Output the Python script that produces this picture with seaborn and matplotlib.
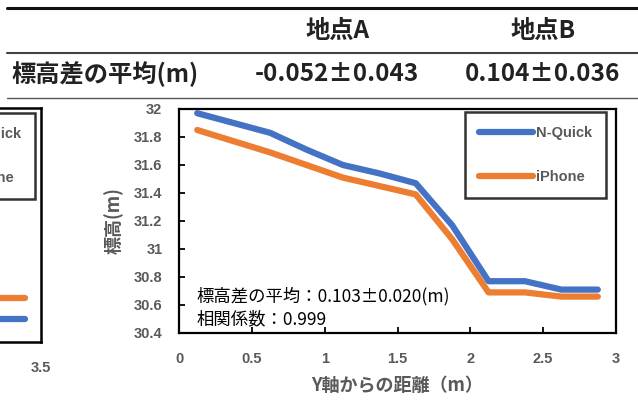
import matplotlib
matplotlib.use("Agg")
import matplotlib.pyplot as plt
from matplotlib.lines import Line2D
import seaborn as sns
import pandas as pd

sns.set_theme(style="white")
plt.rcParams['font.family'] = ['Noto Sans CJK JP', 'DejaVu Sans']

# ---- data ----
table_cols = ["地点A", "地点B"]
table_row_label = "標高差の平均(m)"
table_values = ["-0.052±0.043", "0.104±0.036"]

dist_b = [0.125, 0.375, 0.625, 0.875, 1.125, 1.375, 1.625, 1.875, 2.125, 2.375, 2.625, 2.875]
nquick_b = [31.97, 31.90, 31.83, 31.71, 31.60, 31.54, 31.47, 31.17, 30.77, 30.77, 30.71, 30.71]
iphone_b = [31.85, 31.77, 31.69, 31.60, 31.51, 31.45, 31.39, 31.07, 30.69, 30.69, 30.66, 30.66]

dist_a = [2.625, 2.875, 3.125, 3.375]
nquick_a = [30.60, 30.57, 30.56, 30.56]
iphone_a = [30.74, 30.72, 30.70, 30.70]

series_names = ["N-Quick", "iPhone"]
colors = ["#4472C4", "#ED7D31"]
xticks_b = [0, 0.5, 1, 1.5, 2, 2.5, 3]
xticklabels_b = ["0", "0.5", "1", "1.5", "2", "2.5", "3"]
yticks_b = [30.4, 30.6, 30.8, 31, 31.2, 31.4, 31.6, 31.8, 32]
yticklabels_b = ["30.4", "30.6", "30.8", "31", "31.2", "31.4", "31.6", "31.8", "32"]
annot_lines = ["標高差の平均：0.103±0.020(m)", "相関係数：0.999"]

W, H = 638, 400
fig = plt.figure(figsize=(W / 100, H / 100), dpi=100)

def px(x0, y0, x1, y1):
    return [x0 / W, 1 - y1 / H, (x1 - x0) / W, (y1 - y0) / H]

gray = "#595959"
tickfont = dict(family=['Liberation Sans', 'DejaVu Sans'], weight='bold', size=10.5, color=gray)
legprop = dict(family=['Liberation Sans', 'DejaVu Sans'], weight='bold', size=10.5)

# ---- table ----
fig.add_artist(Line2D([7 / W, 1], [1 - 8 / H] * 2, color="#111111", lw=2.2))
fig.add_artist(Line2D([7 / W, 1], [1 - 53 / H] * 2, color="#444444", lw=1.5))
fig.add_artist(Line2D([7 / W, 1], [1 - 98 / H] * 2, color="#555555", lw=1.0))
tkw = dict(va="center", fontsize=17.5, weight="bold", color="#222222")
fig.text(338 / W, 1 - 31 / H, table_cols[0], ha="center", **tkw)
fig.text(543 / W, 1 - 31 / H, table_cols[1], ha="center", **tkw)
fig.text(11 / W, 1 - 74 / H, table_row_label, ha="left", **tkw)
fig.text(337 / W, 1 - 74 / H, table_values[0], ha="center", **tkw)
fig.text(543 / W, 1 - 74 / H, table_values[1], ha="center", **tkw)

# ---- partial left chart (site A) ----
axa = fig.add_axes(px(-400, 108, 41, 342))
dfa = pd.DataFrame({"x": dist_a * 2, "y": nquick_a + iphone_a,
                    "s": [series_names[0]] * len(dist_a) + [series_names[1]] * len(dist_a)})
sns.lineplot(data=dfa, x="x", y="y", hue="s", palette=colors, lw=4.5, ax=axa, legend=False)
for ln in axa.lines:
    ln.set_solid_capstyle("round")
axa.set_xlim(0, 3.5)
axa.set_ylim(30.4, 32.0)
axa.set_xticks([3.5])
axa.set_xticklabels(["3.5"], **tickfont)
axa.set_yticks([])
axa.set_xlabel("")
axa.set_ylabel("")
axa.tick_params(axis="x", length=0, pad=14)
for sp in axa.spines.values():
    sp.set_color("black")
    sp.set_linewidth(1.8)
ha = [Line2D([], [], color=c, lw=4.5, solid_capstyle="round") for c in colors]
lega = axa.legend(ha, series_names, loc="upper right", bbox_to_anchor=(0.986, 0.979),
                  borderaxespad=0, frameon=True, fancybox=False, handlelength=3.7,
                  labelspacing=2.05, prop=legprop, borderpad=0.95, handletextpad=0.2)
lega.get_frame().set_edgecolor("black")
lega.get_frame().set_linewidth(1.8)
for t in lega.get_texts():
    t.set_color(gray)

# ---- main chart (site B) ----
ax = fig.add_axes(px(179, 109, 616, 333))
df = pd.DataFrame({"x": dist_b * 2, "y": nquick_b + iphone_b,
                   "s": [series_names[0]] * len(dist_b) + [series_names[1]] * len(dist_b)})
sns.lineplot(data=df, x="x", y="y", hue="s", palette=colors, lw=4.5, ax=ax, legend=False)
for ln in ax.lines:
    ln.set_solid_capstyle("round")
    ln.set_solid_joinstyle("round")
ax.set_xlim(0, 3)
ax.set_ylim(30.4, 32)
ax.set_xticks(xticks_b)
ax.set_xticklabels(xticklabels_b, **tickfont)
ax.set_yticks(yticks_b)
ax.set_yticklabels(yticklabels_b, **tickfont)
ax.tick_params(axis="both", direction="in", length=4, width=1.3, color="black", bottom=True, left=True)
ax.tick_params(axis="x", pad=14)
ax.tick_params(axis="y", pad=12)
for sp in ax.spines.values():
    sp.set_color("black")
    sp.set_linewidth(1.6)
ax.set_xlabel("Y軸からの距離（m）", fontsize=13, weight="bold", color=gray, labelpad=7)
ax.set_ylabel("標高(m)", fontsize=13, weight="bold", color=gray, labelpad=7)

ax.text(0.04, 0.165, annot_lines[0], transform=ax.transAxes, fontsize=12.5, color="black", va="center")
ax.text(0.04, 0.062, annot_lines[1], transform=ax.transAxes, fontsize=12.5, color="black", va="center")

hb = [Line2D([], [], color=c, lw=4.5, solid_capstyle="round") for c in colors]
leg = ax.legend(hb, series_names, loc="upper right", bbox_to_anchor=(0.977, 0.987),
                borderaxespad=0, frameon=True, fancybox=False, handlelength=3.7,
                labelspacing=2.05, prop=legprop, borderpad=0.95, handletextpad=0.2)
leg.get_frame().set_edgecolor("black")
leg.get_frame().set_linewidth(1.8)
for t in leg.get_texts():
    t.set_color(gray)

fig.savefig("out.png", dpi=100)
